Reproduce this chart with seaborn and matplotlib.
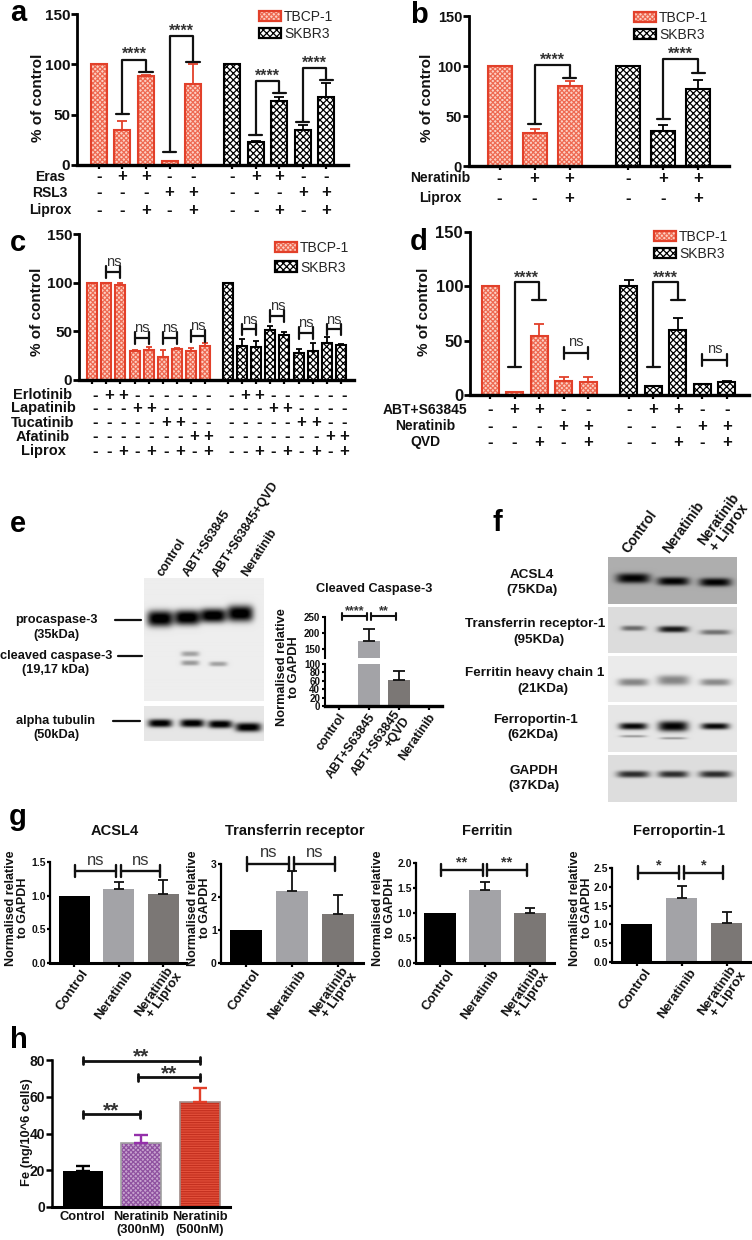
import numpy as np
import matplotlib
matplotlib.use("Agg")
import matplotlib.pyplot as plt
import seaborn as sns
from matplotlib.colors import to_rgba
from matplotlib.patches import Patch
from matplotlib.transforms import ScaledTranslation, blended_transform_factory

# ---------------- data ----------------
a_vals = [100, 35, 88, 4, 80, 100, 23, 64, 35, 68]
a_tops = [100, 44, 89, 4, 100, 100, 23.5, 68, 40, 81]
a_rows = ["Eras", "RSL3", "Liprox"]
a_signs = ["-++-- -++--", "---++ ---++", "--+-+ --+-+"]

b_vals = [100, 33, 80, 100, 35, 77]
b_tops = [100, 37, 85, 100, 41, 86]
b_rows = ["Neratinib", "Liprox"]
b_signs = ["-++ -++", "--+ --+"]

c_vals = [100, 100, 98, 30, 31, 24, 32, 30, 35, 100, 35, 34, 51, 46, 28, 30, 38, 36]
c_tops = [100, 100, 100, 31, 34, 31, 33, 33, 38, 100, 42, 40, 55, 49, 32, 38, 44, 36.5]
c_rows = ["Erlotinib", "Lapatinib", "Tucatinib", "Afatinib", "Liprox"]
c_signs = ["-++------ -++------", "---++---- ---++----", "-----++-- -----++--",
           "-------++ -------++", "--+-+-+-+ --+-+-+-+"]

d_vals = [100, 3, 54, 13, 12, 100, 8, 60, 10, 12]
d_tops = [100, 3, 65, 17, 17, 106, 8.5, 71, 10.5, 12.5]
d_rows = ["ABT+S63845", "Neratinib", "QVD"]
d_signs = ["-++-- -++--", "---++ ---++", "--+-+ --+-+"]

e_names = ["control", "ABT+S63845", "ABT+S63845\n+QVD", "Neratinib"]
e_vals = [0, 175, 62, 0]
e_tops = [0, 212, 84, 0]

g_names = ["Control", "Neratinib", "Neratinib\n+ Liprox"]
g_titles = ["ACSL4", "Transferrin receptor", "Ferritin", "Ferroportin-1"]
g_vals = [[1, 1.1, 1.02], [1, 2.17, 1.48], [1, 1.47, 1.01], [1, 1.7, 1.03]]
g_tops = [[1, 1.21, 1.23], [1, 2.78, 2.05], [1, 1.62, 1.1], [1, 2.02, 1.32]]
g_marks = ["ns", "ns", "**", "*"]

h_names = ["Control", "Neratinib\n(300nM)", "Neratinib\n(500nM)"]
h_vals = [19.5, 35, 57]
h_tops = [22.5, 39, 65]

# ---------------- set-up ----------------
W, H = 752, 1240
sns.set_theme(style="white")
plt.rcParams["font.family"] = ["Liberation Sans", "DejaVu Sans"]
plt.rcParams["font.weight"] = "bold"
plt.rcParams["axes.labelweight"] = "bold"
plt.rcParams["hatch.linewidth"] = 0.9
INK = "#111111"
RED, SALMON, REDH = "#e2402a", "#fdd0c4", "#ee6a52"
fig = plt.figure(figsize=(W / 100, H / 100), dpi=100, facecolor="white")


def fx(x):
    return x / W


def fy(y):
    return 1 - y / H


def T(x, y, s, size=9, ha="center", va="center", weight="bold", **kw):
    return fig.text(fx(x), fy(y), s, fontsize=size, ha=ha, va=va, fontweight=weight, color=INK, **kw)


def new_axes(left, right, top, bottom):
    return fig.add_axes([fx(left), fy(bottom), (right - left) / W, (bottom - top) / H])


def hatch_bar(p, face, edge, hatch, hcolor, lw=1.5):
    p.set_facecolor(face)
    p.set_edgecolor(edge)
    p.set_linewidth(lw)
    p.set_hatch(hatch)
    p._hatch_color = to_rgba(hcolor)


def style_red(p):
    hatch_bar(p, SALMON, RED, "xxxxxxx", REDH)


def style_black(p):
    hatch_bar(p, "white", "black", "xxxxx", "black")


def group_positions(sizes, gap):
    out, start = [], 0.0
    for n in sizes:
        out.extend(start + i for i in range(n))
        start += n - 1 + gap
    return np.array(out)


def axis_style(ax, yticks, size, lw=2.0, xlw=2.4, ylen=4):
    sns.despine(ax=ax)
    ax.spines["left"].set_linewidth(lw)
    ax.spines["bottom"].set_linewidth(xlw)
    ax.spines["left"].set_color("black")
    ax.spines["bottom"].set_color("black")
    ax.set_yticks(yticks)
    ax.tick_params(axis="y", length=ylen, width=lw, pad=1, labelsize=size, left=True, color="black", labelcolor=INK)
    ax.tick_params(axis="x", length=3, width=1.6, bottom=True, color="black")
    ax.set_ylabel("")
    ax.set_xlabel("")


def draw_bars(ax, pos, vals, width):
    sns.barplot(x=pos, y=vals, native_scale=True, width=width, color="#888888",
                errorbar=None, ax=ax, legend=False)


def up_errors(ax, pos, vals, tops, colors, cap, lw=1.3):
    for x, v, t, c in zip(pos, vals, tops, colors):
        if t > v:
            ax.errorbar([x], [v], yerr=[[0], [t - v]], fmt="none", ecolor=c,
                        elinewidth=lw, capsize=cap, capthick=lw, zorder=3, clip_on=False)


def drop_bracket(ax, i, j, top, lo, hi, capx, mark="****", off=3.5, size=11.5, lw=1.6):
    ax.plot([i - capx, i + capx], [lo, lo], color=INK, lw=lw, clip_on=False, zorder=4)
    ax.plot([j - capx, j + capx], [hi, hi], color=INK, lw=lw, clip_on=False, zorder=4)
    ax.plot([i, i, j, j], [lo, top, top, hi], color=INK, lw=lw, clip_on=False, zorder=4)
    ax.annotate(mark, ((i + j) / 2, top), xytext=(0, off), textcoords="offset points",
                ha="center", va="center", fontsize=size, color="#333333", annotation_clip=False)


def flat_bracket(ax, i, j, y, tick, mark="ns", off=6, size=10, lw=1.6):
    ax.plot([i, j], [y, y], color=INK, lw=lw, clip_on=False, zorder=4)
    for x in (i, j):
        ax.plot([x, x], [y - tick, y + tick], color=INK, lw=lw, clip_on=False, zorder=4)
    ax.annotate(mark, ((i + j) / 2, y), xytext=(0, off), textcoords="offset points",
                ha="center", va="center", fontsize=size, color="#333333",
                fontweight="normal" if mark == "ns" else "bold", annotation_clip=False)


def sign_table(ax, pos, rows, signs, row_y, label_x, size=10, shift=0, sign_size=12):
    trans = blended_transform_factory(ax.transData, fig.transFigure)
    offset = ScaledTranslation(shift / 100, 0, fig.dpi_scale_trans)
    for name, row, y in zip(rows, signs, row_y):
        T(label_x, y, name, size=size)
        for x, s in zip(pos, row.replace(" ", "")):
            ax.text(x, fy(y), s, transform=trans + offset, ha="center", va="center",
                    fontsize=sign_size, color=INK, clip_on=False)


def legend_at(ax, x, y, size, spacing):
    handles = [Patch(label="TBCP-1"), Patch(label="SKBR3")]
    leg = ax.legend(handles=handles, loc="upper left", bbox_to_anchor=(fx(x), fy(y)),
                    bbox_transform=fig.transFigure, frameon=False, borderpad=0, borderaxespad=0,
                    handlelength=1.55, handleheight=0.8, handletextpad=0.25,
                    labelspacing=spacing, prop={"size": size, "weight": "normal"})
    style_red(leg.get_patches()[0])
    style_black(leg.get_patches()[1])
    leg.get_patches()[0].set_linewidth(1.6)
    leg.get_patches()[1].set_linewidth(1.6)


def cell_panel(box, first_px, step_px, sizes, gap, width_px, vals, tops, tick_size=11, ylab=None, cap=3.6):
    left, right, top, bottom = box
    ax = new_axes(left, right, top, bottom)
    pos = group_positions(sizes, gap)
    draw_bars(ax, pos, vals, width_px / step_px)
    ax.set_xlim((left - first_px) / step_px, (right - first_px) / step_px)
    ax.set_ylim(0, 150)
    ax.set_xticks(pos)
    ax.set_xticklabels([])
    axis_style(ax, [0, 50, 100, 150], tick_size)
    n_red = sizes[0]
    ecolors = []
    for k, p in enumerate(ax.patches):
        (style_red if k < n_red else style_black)(p)
        ecolors.append(RED if k < n_red else "black")
    up_errors(ax, pos, vals, tops, ecolors, cap)
    ax.set_ylabel("% of control", fontsize=ylab[2], color=INK, va="center")
    ax.yaxis.set_label_coords(fx(ylab[0]), fy(ylab[1]), transform=fig.transFigure)
    return ax, pos


# ---------------- panel a ----------------
axa, pa = cell_panel((77, 348, 14, 165), 98.7, 23.6, [5, 5], 1.65, 16, a_vals, a_tops, ylab=(38, 98, 11))
drop_bracket(axa, pa[1], pa[2], 104.7, 50.7, 92.7, 0.28)
drop_bracket(axa, pa[3], pa[4], 128, 13, 102, 0.28)
drop_bracket(axa, pa[6], pa[7], 83.7, 30, 71.7, 0.28)
drop_bracket(axa, pa[8], pa[9], 96, 42.7, 84, 0.28)
sign_table(axa, pa, a_rows, a_signs, [177, 193, 210], 50)
legend_at(axa, 259, 10, 10, 0.21)

# ---------------- panel b ----------------
axb, pb = cell_panel((469, 729, 16, 166), 499.5, 35.0, [3, 3], 1.68, 24, b_vals, b_tops, tick_size=10.5, ylab=(427, 98, 11))
drop_bracket(axb, pb[1], pb[2], 101, 42, 88, 0.19)
drop_bracket(axb, pb[4], pb[5], 107, 47, 93, 0.19)
sign_table(axb, pb, b_rows, b_signs, [178, 198], 440)
legend_at(axb, 634, 11, 10, 0.21)

# ---------------- panel c ----------------
axc, pc = cell_panel((79, 354, 234, 380), 92.3, 14.07, [9, 9], 1.66, 10, c_vals, c_tops, ylab=(37, 312, 11), cap=2)
for i, j, y in [(1, 2, 111), (3, 4, 43), (5, 6, 43), (7, 8, 45), (10, 11, 52), (12, 13, 65.7), (14, 15, 48.6), (16, 17, 52)]:
    flat_bracket(axc, pc[i], pc[j], y, 6, off=7, size=10.5)
sign_table(axc, pc, c_rows, c_signs, [395, 408, 423, 437, 451], 43, size=10.5, shift=3)
legend_at(axc, 275, 241, 10, 0.4)

# ---------------- panel d ----------------
axd, pd_ = cell_panel((470, 749, 232, 395), 490, 24.5, [5, 5], 1.67, 17, d_vals, d_tops, tick_size=12, ylab=(424, 312, 11))
drop_bracket(axd, pd_[1], pd_[2], 104, 26, 87, 0.27, off=3)
drop_bracket(axd, pd_[6], pd_[7], 104, 26, 87, 0.27, off=3)
flat_bracket(axd, pd_[3], pd_[4], 39, 5.5, off=8, size=10.5)
flat_bracket(axd, pd_[8], pd_[9], 32, 5.5, off=8, size=10.5)
sign_table(axd, pd_, d_rows, d_signs, [410, 426, 442], 425)
legend_at(axd, 654, 230, 10, 0.2)


# ---------------- blots ----------------
def blot(box, bg, bands):
    left, right, top, bottom = box
    ax = new_axes(left, right, top, bottom)
    yy, xx = np.mgrid[top:bottom:0.5, left:right:0.5]
    img = np.full(xx.shape, float(bg))
    for cx, cy, hw, hh, dark in bands:
        img -= dark * np.exp(-(np.abs(xx - cx) / hw) ** 4 - (np.abs(yy - cy) / hh) ** 2.6)
    ax.imshow(np.clip(img, 0, 1), cmap="gray", vmin=0, vmax=1, aspect="auto", interpolation="bilinear")
    ax.axis("off")


pro_bands = [(160, 619, 13, 8, 1.0), (187, 618, 13, 7.5, 1.0), (213, 616, 13, 7, 1.0), (240, 614, 13, 8, 1.0),
             (190, 654, 9, 2.6, 0.3), (190, 663, 9, 2.6, 0.33), (218, 664, 9, 2.4, 0.3)]
tub_bands = [(160, 723, 12, 4, 0.95), (192, 723, 12, 4, 0.95), (220, 724, 12, 4, 0.95), (248, 727, 13, 4.5, 0.95)]
blot((144, 264, 578, 701), 0.93, pro_bands)
blot((144, 264, 706, 741), 0.90, tub_bands)

f_boxes = [(557, 604), (607, 653), (656, 702), (705, 752), (755, 802)]
f_bgs = [0.68, 0.86, 0.92, 0.90, 0.87]
f_bands = [
    [(633, 578, 17, 5, 0.68), (673, 581, 16, 4.2, 0.68), (715, 582, 16, 4.2, 0.68)],
    [(633, 628, 12, 2.6, 0.45), (673, 629, 15, 3.2, 0.78), (715, 632, 15, 2.6, 0.42)],
    [(633, 682, 15, 3.8, 0.4), (673, 680, 16, 5, 0.4), (715, 682, 15, 3.5, 0.38)],
    [(633, 726, 14, 3.4, 0.88), (673, 726, 15, 5.2, 0.9), (715, 726, 14, 3.2, 0.88),
     (633, 736, 13, 1.2, 0.3), (673, 738, 13, 1.2, 0.3)],
    [(633, 774, 16, 3.4, 0.7), (673, 774, 15, 3.4, 0.7), (715, 774, 16, 3.4, 0.7)],
]
for (t, b), bg, bands in zip(f_boxes, f_bgs, f_bands):
    blot((608, 737, t, b), bg, bands)

for x, y, s in [(56, 620, "procaspase-3"), (56, 635, "(35kDa)"), (56, 656, "cleaved caspase-3"),
                (56, 670, "(19,17 kDa)"), (56, 721, "alpha tubulin"), (56, 735, "(50kDa)")]:
    T(x, y, s, size=9.2)
for y, x0, x1 in [(620, 115, 141), (656, 118, 142), (721, 113, 140)]:
    fig.add_artist(plt.Line2D([fx(x0), fx(x1)], [fy(y), fy(y)], color=INK, lw=1.6))
for x, s in [(165, "control"), (191, "ABT+S63845"), (221, "ABT+S63845+QVD"), (250, "Neratinib")]:
    fig.text(fx(x), fy(579), s, rotation=57, ha="left", va="bottom", rotation_mode="anchor", fontsize=9, color=INK)

for x, y, s in [(532, 575, "ACSL4"), (532, 590, "(75KDa)"), (535, 624, "Transferrin receptor-1"), (539, 640, "(95KDa)"),
                (535, 673, "Ferritin heavy chain 1"), (543, 689, "(21KDa)"), (535, 720, "Ferroportin-1"),
                (533, 735, "(62KDa)"), (534, 771, "GAPDH"), (534, 786, "(37KDa)")]:
    T(x, y, s, size=9.7)
for x, s in [(631, "Control"), (672, "Neratinib"), (717, "Neratinib\n+ Liprox")]:
    fig.text(fx(x), fy(556), s, rotation=54, ha="left", va="bottom", rotation_mode="anchor",
             fontsize=10, color=INK, linespacing=0.95, multialignment="center")

# ---------------- panel e chart ----------------
GREYS = ["black", "#a3a3a7", "#7b7775"]
e_pos = np.arange(4)
ax_up = new_axes(325, 442, 617, 658)
ax_lo = new_axes(325, 442, 664, 706)
for ax in (ax_up, ax_lo):
    draw_bars(ax, e_pos, e_vals, 22.7 / 30)
    ax.set_xlim((325 - 339) / 30, (442 - 339) / 30)
    for k, p in enumerate(ax.patches):
        p.set_facecolor((["black"] + GREYS[1:] + ["black"])[k])
        p.set_linewidth(0)
ax_up.set_ylim(122, 250)
ax_lo.set_ylim(0, 100)
axis_style(ax_up, [150, 200, 250], 7, lw=1.5, ylen=2.5)
axis_style(ax_lo, [0, 20, 40, 60, 80, 100], 7, lw=1.5, ylen=2.5)
ax_up.spines["bottom"].set_visible(False)
ax_up.set_xticks([])
ax_lo.set_xticks(e_pos)
ax_lo.set_xticklabels(e_names, rotation=55, ha="right", va="center", rotation_mode="anchor", fontsize=9, linespacing=0.95, color=INK)
for lab in ax_lo.get_xticklabels():
    lab.set_transform(lab.get_transform() + ScaledTranslation(0.04, 0.0, fig.dpi_scale_trans))
ax_up.errorbar([1], [175], yerr=[[0], [212 - 175]], fmt="none", ecolor=INK, elinewidth=1.3, capsize=4, capthick=1.3)
ax_lo.errorbar([2], [62], yerr=[[0], [84 - 62]], fmt="none", ecolor=INK, elinewidth=1.3, capsize=4, capthick=1.3)
flat_bracket(ax_up, 0.1, 0.93, 252, 12, mark="****", off=4, size=9, lw=1.5)
flat_bracket(ax_up, 1.07, 1.9, 252, 12, mark="**", off=4, size=9, lw=1.5)
T(374, 589, "Cleaved Caspase-3", size=9.2)
T(288, 667, "Normalised relative\nto GAPDH", size=9.2, rotation=90, linespacing=1.05)

# ---------------- panel g ----------------
g_geo = [
    (50, 186, 862, 963, 74, 44.5, 31, 1.5, [0, 0.5, 1.0, 1.5], (17, 908), 115, 1.36, 0.09),
    (221, 363, 864, 963, 245.5, 46.3, 32, 3.0, [0, 1, 2, 3], (199, 908), 295, 3.0, 0.22),
    (416, 554, 863, 963, 439.5, 45.3, 32, 2.0, [0, 0.5, 1.0, 1.5, 2.0], (384, 908), 487, 1.866, 0.12),
    (612, 750, 868, 962, 636.5, 45, 31, 2.5, [0, 0.5, 1.0, 1.5, 2.0, 2.5], (581, 908), 679, 2.37, 0.17),
]
g_fmt = ["%.1f", "%d", "%.1f", "%.1f"]
g_pos = np.arange(3)
for k, (left, right, top, bottom, c0, step, bw, ymax, ticks, ylab, tx, by, btick) in enumerate(g_geo):
    ax = new_axes(left, right, top, bottom)
    draw_bars(ax, g_pos, g_vals[k], bw / step)
    ax.set_xlim((left - c0) / step, (right - c0) / step)
    ax.set_ylim(0, ymax)
    axis_style(ax, ticks, 7.5, lw=1.6, xlw=2.2, ylen=2)
    ax.set_yticklabels([g_fmt[k] % t for t in ticks])
    for i, p in enumerate(ax.patches):
        p.set_facecolor(GREYS[i])
        p.set_linewidth(0)
    up_errors(ax, g_pos, g_vals[k], g_tops[k], [INK] * 3, 3.8)
    ax.set_xticks(g_pos)
    ax.set_xticklabels(g_names, rotation=55, ha="right", va="center", rotation_mode="anchor",
                       fontsize=9.5, linespacing=0.95, color=INK)
    for lab in ax.get_xticklabels():
        lab.set_transform(lab.get_transform() + ScaledTranslation(0.12, 0.01, fig.dpi_scale_trans))
    msize = 12 if g_marks[k] == "ns" else 10.5
    moff = 8 if g_marks[k] == "ns" else 5
    flat_bracket(ax, 0.03, 0.95, by, btick, mark=g_marks[k], off=moff, size=msize, lw=1.7)
    flat_bracket(ax, 1.05, 1.93, by, btick, mark=g_marks[k], off=moff, size=msize, lw=1.7)
    ax.set_title(g_titles[k], fontsize=10.5, fontweight="bold", color=INK, x=(tx - left) / (right - left),
                 y=(bottom - 839) / (bottom - top), va="center")
    T(ylab[0], ylab[1], "Normalised relative\nto GAPDH", size=9, rotation=90, linespacing=1.0)

# ---------------- panel h ----------------
axh = new_axes(52, 230, 1060, 1207)
h_pos = np.arange(3)
draw_bars(axh, h_pos, h_vals, 40 / 58.5)
axh.set_xlim((52 - 82.5) / 58.5, (230 - 82.5) / 58.5)
axh.set_ylim(0, 80)
axis_style(axh, [0, 20, 40, 60, 80], 10, lw=1.8, xlw=2.2)
bars = axh.patches
bars[0].set_facecolor("black")
bars[0].set_linewidth(0)
hatch_bar(bars[1], "#c7a3cf", "#a0a0a0", "xxxxxxx", "#8f52a0", lw=1.2)
hatch_bar(bars[2], "#e4513c", "#a08a86", "-------", "#c4301f", lw=1.2)
up_errors(axh, h_pos, h_vals, h_tops, ["black", "#9430aa", RED], 5, lw=1.7)
axh.set_xticks(h_pos)
axh.set_xticklabels(h_names, fontsize=9.3, linespacing=1.05, color=INK)
axh.tick_params(axis="x", length=0, pad=3)
axh.set_ylabel("Fe (ng/10^6 cells)", fontsize=9.3, color=INK, va="center")
axh.yaxis.set_label_coords(fx(27), fy(1132), transform=fig.transFigure)
flat_bracket(axh, 0, 0.98, 50.5, 2, mark="**", off=2.5, size=15, lw=2)
flat_bracket(axh, 0.95, 2, 70.6, 2, mark="**", off=2.5, size=15, lw=2)
flat_bracket(axh, 0, 2, 79.6, 2, mark="**", off=2.5, size=15, lw=2)

# ---------------- panel letters ----------------
for x, y, s in [(18, 13, "a"), (419, 15, "b"), (18, 243, "c"), (419, 242, "d"),
                (18, 524, "e"), (497, 523, "f"), (18, 817, "g"), (19, 1040, "h")]:
    fig.text(fx(x), fy(y), s, fontsize=21, fontweight="bold", ha="center", va="center", color="black")

fig.savefig("out.png", dpi=100, facecolor="white")
